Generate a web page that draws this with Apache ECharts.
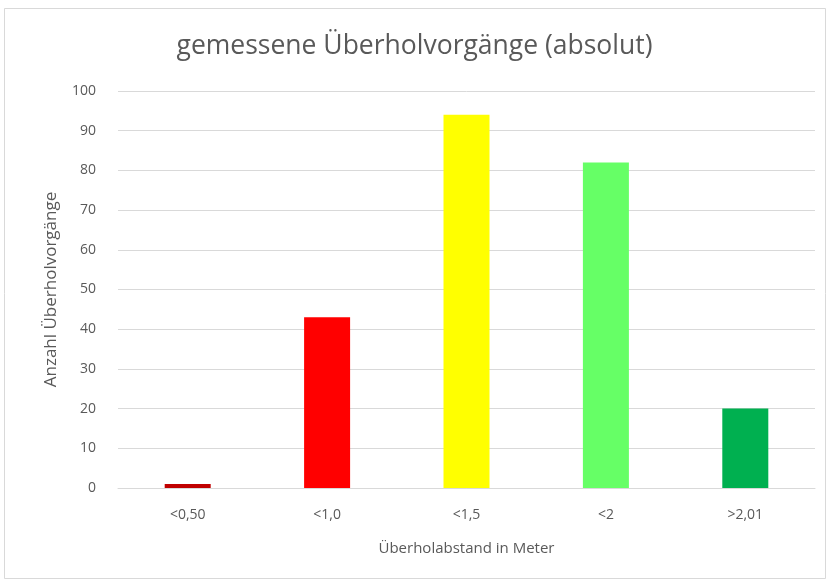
<!DOCTYPE html>
<html><head><meta charset="utf-8">
<script src="https://cdn.jsdelivr.net/npm/echarts@6/dist/echarts.min.js"></script>
<style>html,body{margin:0;padding:0;background:#fff}#c{width:829px;height:581px}</style>
</head><body><div id="c"></div>
<script>
const categories = ['<0,50', '<1,0', '<1,5', '<2', '>2,01'];
const values = [1, 43, 94, 82, 20];
const barColors = ['#C00000', '#FF0000', '#FFFF00', '#66FF66', '#00B050'];
const yTicks = [0, 10, 20, 30, 40, 50, 60, 70, 80, 90, 100];

const chart = echarts.init(document.getElementById('c'));
const font = 'Open Sans';
chart.setOption({
  animation: false,
  backgroundColor: '#fff',
  graphic: [{type:'rect', shape:{x:4.5,y:8.5,width:821,height:570}, style:{fill:'none', stroke:'#D9D9D9', lineWidth:1}}],
  title: {text: 'gemessene Überholvorgänge (absolut)', left: 'center', top: 28,
    textStyle: {fontFamily: font, fontSize: 26.5, fontWeight: 'normal', color: '#595959'}},
  grid: {left: 118, right: 14, top: 91, bottom: 93},
  xAxis: {type: 'category', data: categories,
    name: 'Überholabstand in Meter', nameLocation: 'middle', nameGap: 53,
    nameTextStyle: {fontFamily: font, fontSize: 15, color: '#595959'},
    axisLine: {lineStyle: {color: '#D9D9D9'}}, axisTick: {show: false},
    axisLabel: {fontFamily: font, fontSize: 14, color: '#595959', margin: 20}},
  yAxis: {type: 'value', min: yTicks[0], max: yTicks[yTicks.length-1], interval: 10,
    name: 'Anzahl Überholvorgänge', nameLocation: 'middle', nameGap: 58, nameRotate: 90,
    nameTextStyle: {fontFamily: font, fontSize: 17, color: '#595959'},
    axisLine: {show: false}, axisTick: {show: false},
    axisLabel: {fontFamily: font, fontSize: 14, color: '#595959', margin: 22},
    splitLine: {lineStyle: {color: '#D9D9D9'}}},
  series: [{type: 'bar', barWidth: '33%',
    data: values.map((v, i) => ({value: v, itemStyle: {color: barColors[i]}}))}]
});
</script></body></html>
